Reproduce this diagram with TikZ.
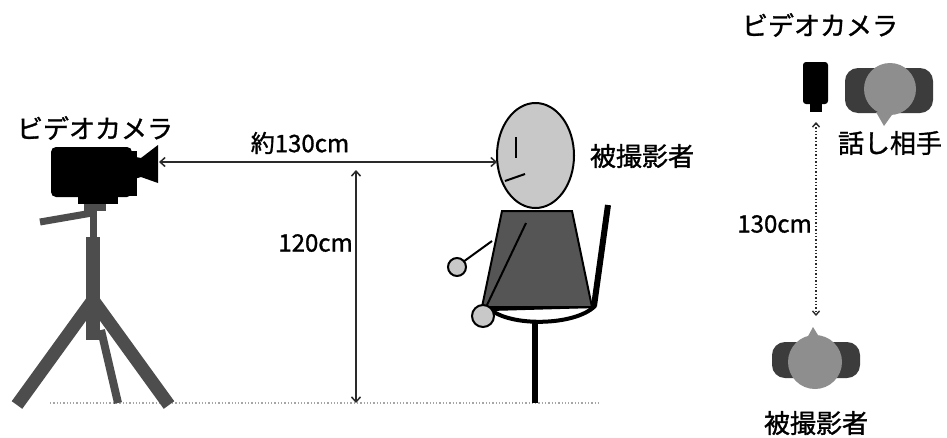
\documentclass[tikz,border=0pt]{standalone}
\usepackage{fontspec}
\newfontfamily\jp[FakeBold=1.2]{Noto Sans CJK JP}
\usetikzlibrary{arrows.meta,shapes.geometric}
\definecolor{tripod}{HTML}{4D4D4D}
\definecolor{shirt}{HTML}{555555}
\definecolor{skin}{HTML}{C8C8C8}
\definecolor{shoulder}{HTML}{3C3C3C}
\definecolor{headtop}{HTML}{8E8E8E}
\definecolor{dimline}{HTML}{2A2A2A}
\tikzset{
  lbl/.style={font=\jp\fontsize{26}{30}\selectfont, inner sep=0pt},
  numlbl/.style={font=\jp\fontsize{24}{28}\selectfont, inner sep=0pt},
  dimarrow/.style={draw=dimline, line width=1.5pt,
    {Straight Barb[length=5pt,width=9pt]}-{Straight Barb[length=5pt,width=9pt]}},
  dotarrow/.style={draw=dimline, line width=1.4pt, dotted,
    {Straight Barb[length=4pt,width=7pt]}-{Straight Barb[length=4pt,width=7pt]}},
  ground/.style={draw=gray!70, line width=1.3pt, dotted},
  leg/.style={draw=tripod, line cap=butt},
  chairbar/.style={draw=black, line width=6pt},
  outl/.style={draw=black, line width=2pt},
}
\begin{document}
\begin{tikzpicture}[x=1pt,y=-1pt]
\useasboundingbox (0,0) rectangle (947,437);
\fill[white] (0,0) rectangle (947,437);

% ---------- side view: floor ----------
\coordinate (floorL) at (50,403);
\coordinate (floorR) at (600,403);
\draw[ground] (floorL) -- (floorR);

% ---------- tripod ----------
\draw[leg, line width=13pt] (93,300) -- (17,405);
\draw[leg, line width=13pt] (93,300) -- (169,405);
\draw[leg, line width=8pt] (101,330) -- (118,403);
\fill[tripod] (86,237) rectangle (100,340);
\fill[tripod] (90,208) rectangle (97,238);
\draw[leg, line width=7pt] (40,222) -- (92,213);
\fill[tripod] (84,202) rectangle (106,211);

% ---------- video camera (side) ----------
\fill[black, rounded corners=5pt] (51,147) rectangle (132,197);
\fill[black] (126,151) rectangle (137,196);
\fill[black] (78,195) rectangle (118,204);
\fill[black] (131,156) -- (141,158) -- (158,145) -- (158,183) -- (141,177) -- (131,180) -- cycle;
\coordinate (lens) at (159,162);

% ---------- chair ----------
\draw[chairbar] (608,205) -- (594,306);
\draw[chairbar] (535,320) -- (535,403);
\filldraw[fill=white, draw=black, line width=4pt, line join=round]
  (490,309) -- (595,306) .. controls (575,326) and (510,327) .. (490,309) -- cycle;

% ---------- seated person ----------
\filldraw[fill=shirt, outl] (502,211) -- (572,211) -- (592,307) -- (482,307) -- cycle;
\draw[outl] (492,241) -- (463,262);
\filldraw[fill=skin, outl] (457,267) circle (9);
\draw[outl] (526,223) -- (487,305);
\filldraw[fill=skin, outl] (483,316) circle (11);
\node[ellipse, fill=skin, outl, minimum width=77pt, minimum height=105pt, inner sep=0pt]
  (head) at (535.5,155.5) {};
\draw[outl] (515.5,137) -- (515.5,158);
\draw[outl] (505,181) -- (525,174);
\coordinate (face) at (497,162);

% ---------- dimensions ----------
\draw[dimarrow] (lens) -- (face);
\node[numlbl] (dist) at (300,143) {約130cm};
\coordinate (eyeTop) at (356,170);
\coordinate (eyeFloor) at (356,403);
\draw[dimarrow] (eyeTop) -- (eyeFloor);
\node[numlbl, anchor=east] (height) at (353,243) {120cm};

% ---------- labels (side view) ----------
\node[lbl] (camlabel) at (95,128) {ビデオカメラ};
\node[lbl] (subjlabel) at (642,156) {被撮影者};

% ---------- top view ----------
\node[lbl] (camlabel2) at (820,25) {ビデオカメラ};
\fill[black, rounded corners=3pt] (803,62) rectangle (828,104);
\fill[black] (810,102) rectangle (822,112);
\coordinate (camTop) at (816,122);

% conversation partner
\fill[shoulder, rounded corners=13pt] (845,68) rectangle (933,113);
\fill[headtop] (890,89) circle (26);
\fill[headtop] (876,112) -- (884,126) -- (894,112) -- cycle;
\node[lbl] (partner) at (890,143) {話し相手};

% subject
\fill[shoulder, rounded corners=13pt] (772,342) rectangle (860,378);
\fill[headtop] (815,362) circle (27);
\fill[headtop] (806,340) -- (813,327) -- (821,340) -- cycle;
\coordinate (subjTop) at (816,316);
\node[lbl] (subjlabel2) at (816,423) {被撮影者};

\draw[dotarrow] (camTop) -- (subjTop);
\node[numlbl, anchor=east] (dist2) at (812,224) {130cm};
\end{tikzpicture}
\end{document}
